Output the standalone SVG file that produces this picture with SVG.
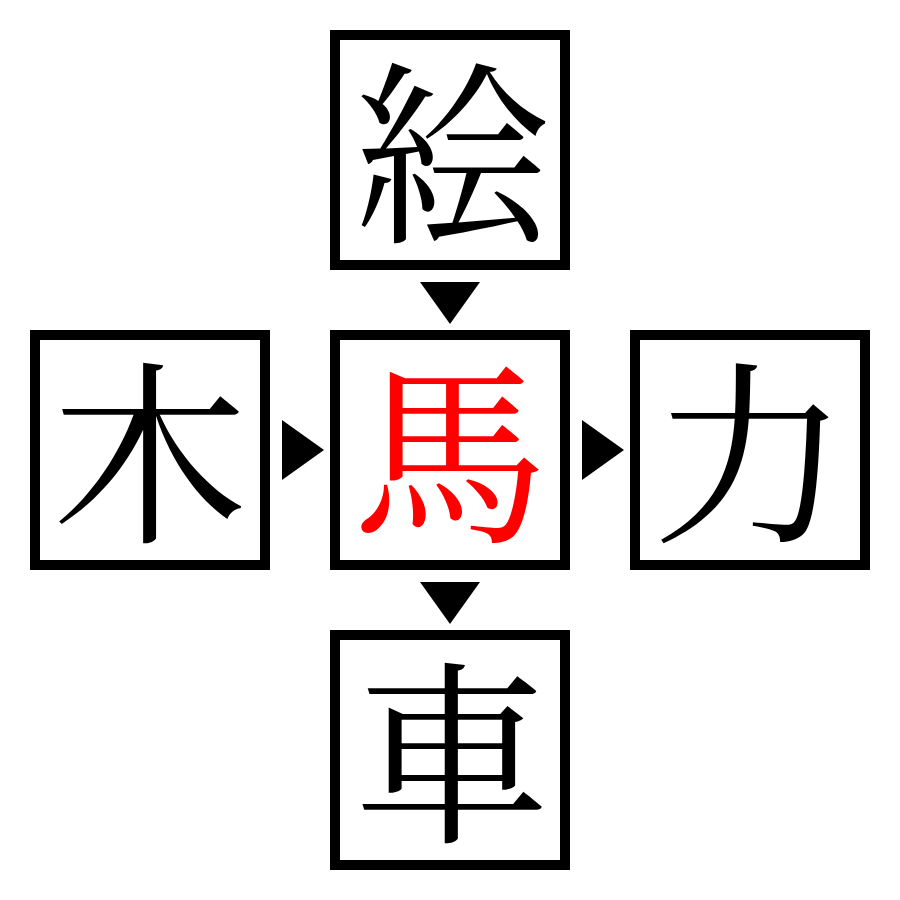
<svg xmlns="http://www.w3.org/2000/svg" width="900" height="900" viewBox="0 0 900 900">
<style>
.box{fill:#fff;stroke:#000;stroke-width:10}
.k{font-family:"Noto Serif CJK JP","Noto Sans CJK JP",serif;font-size:196px;text-anchor:middle;fill:#000}
.red{fill:#ff0000}
.arr{fill:#000}
</style>
<rect width="900" height="900" fill="#fff"/>
<g id="node-top"><rect class="box" x="335" y="35" width="230" height="230"/><text class="k" x="452" y="227">絵</text></g>
<g id="node-left"><rect class="box" x="35" y="335" width="230" height="230"/><text class="k" x="150" y="527">木</text></g>
<g id="node-center"><rect class="box" x="335" y="335" width="230" height="230"/><text class="k red" x="450" y="527">馬</text></g>
<g id="node-right"><rect class="box" x="635" y="335" width="230" height="230"/><text class="k" x="750" y="527">力</text></g>
<g id="node-bottom"><rect class="box" x="335" y="635" width="230" height="230"/><text class="k" x="452" y="827">車</text></g>
<g id="connectors">
<polygon class="arr" points="420,282 480,282 450,324"/>
<polygon class="arr" points="420,582 480,582 450,624"/>
<polygon class="arr" points="282,420 282,480 324,450"/>
<polygon class="arr" points="582,420 582,480 624,450"/>
</g>
</svg>
